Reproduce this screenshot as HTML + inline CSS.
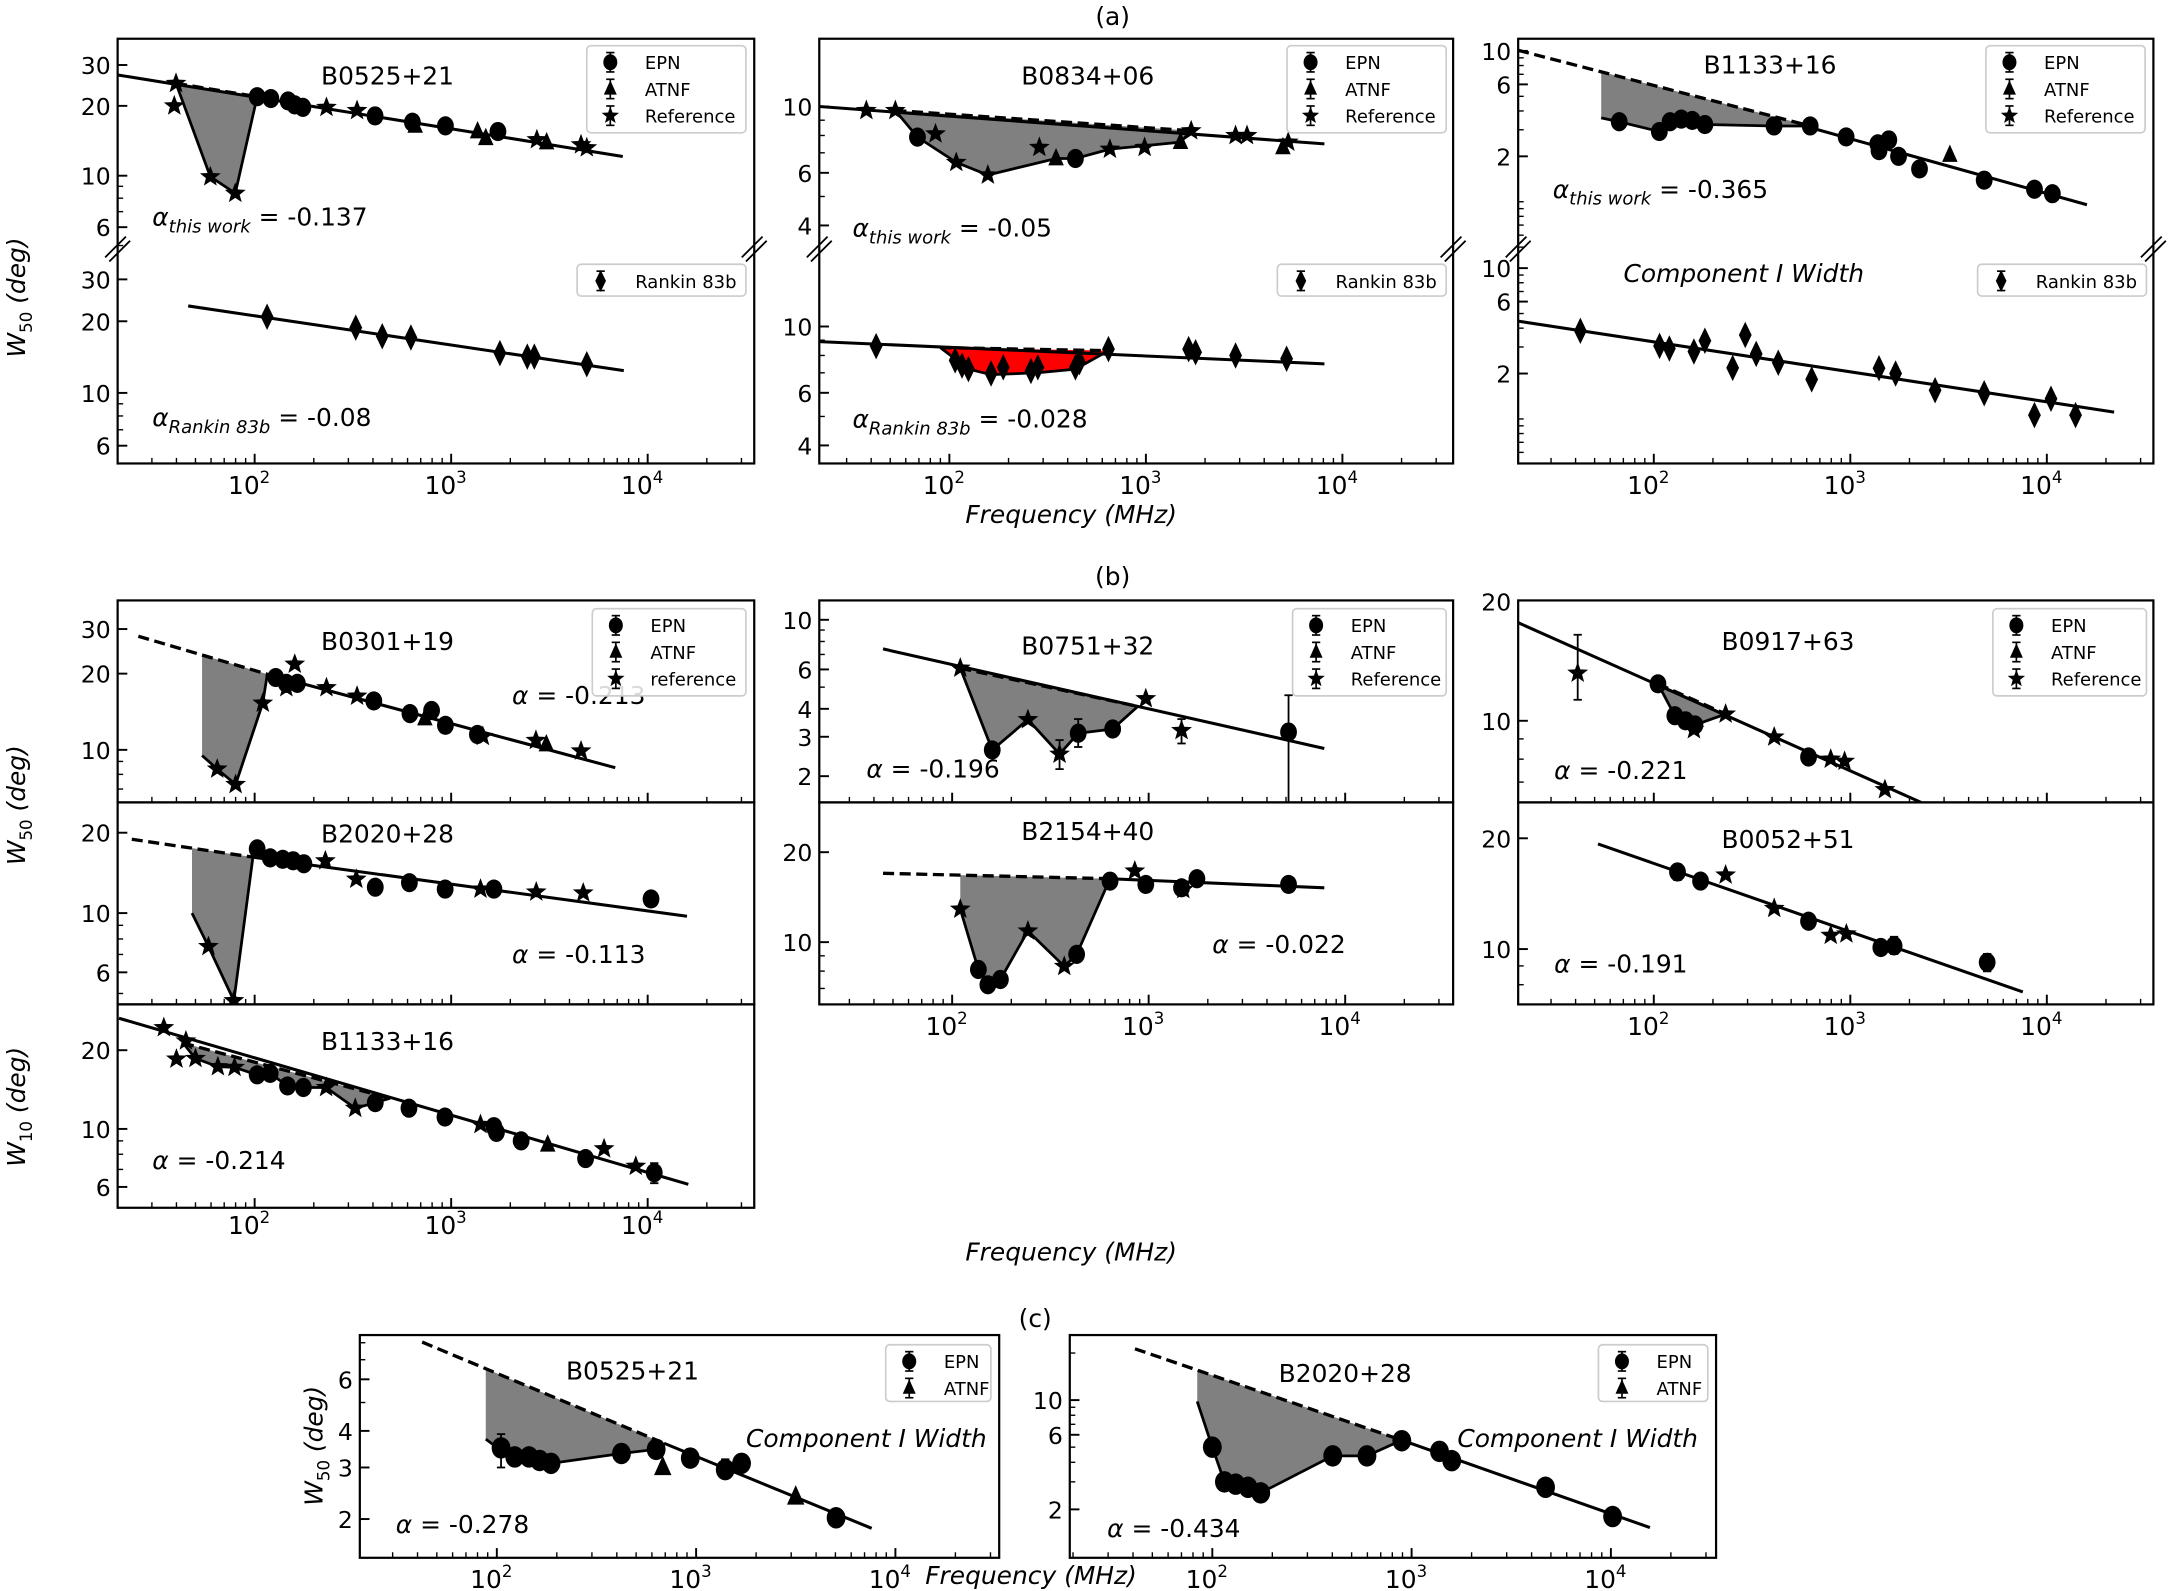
<!DOCTYPE html>
<html><head><meta charset="utf-8">
<style>
html,body{margin:0;padding:0;background:#fff;}
svg{display:block;}
text{font-family:"DejaVu Sans","Liberation Sans",sans-serif;fill:#000;}
</style></head>
<body>
<svg id="fig" xmlns="http://www.w3.org/2000/svg" width="2170" height="1591" viewBox="0 0 1568 1150" preserveAspectRatio="none">
<rect x="0" y="0" width="1568" height="1150" fill="#fff"/>
<g id="layer-shade"></g>
<g id="layer-lines"></g>
<g id="layer-marks"></g>
<g id="layer-frames"></g>
<g id="layer-text"></g>
<g id="layer-legend"></g>
</svg>
<script>
// ---------- DATA (frequency MHz, width deg) ----------
const a1top_epn=[[103,21.9],[121,21.5],[148,21],[160,20.2],[176,19.7],[410,18.1],[635,17.0],[935,16.4],[1730,15.5]];
const a1top_atnf=[[656,16.4],[1363,15.5],[1500,14.5],[3060,13.9]];
const a1top_ref=[[39.8,25],[39,20],[59.5,9.9],[79.7,8.4],[232,19.7],[332,19.1],[2730,14.3],[4580,13.6],[4900,13.2]];
const a1top_fit=[[20,27.2],[7470,12.1]];
const a1top_dash=[[39.8,25],[103,21.9]];
const a1top_low=[[39.8,25],[59.5,9.9],[79.7,8.4],[103,21.9]];
const a1bot_rankin=[[115.7,20.9],[327,18.8],[446,17.3],[624,17.1],[1770,14.7],[2440,14.2],[2650,14.2],[4900,13.2]];
const a1bot_fit=[[45.9,23.2],[7560,12.4]];

const a2top_epn=[[68.8,7.9],[438,6.7]];
const a2top_atnf=[[349,6.7],[1500,7.6],[4980,7.3]];
const a2top_ref=[[37.8,9.7],[53.1,9.7],[85,8.1],[108.4,6.5],[157,5.9],[287,7.3],[656,7.2],[985,7.3],[1700,8.3],[2860,8.0],[3270,8.0],[5300,7.6]];
const a2top_fit=[[21.8,10.0],[8100,7.5]];
const a2top_dash=[[53.1,9.7],[1700,8.3]];
const a2top_low=[[53.1,9.7],[68.8,7.9],[108.4,6.5],[157,5.9],[349,6.7],[438,6.7],[656,7.2],[1500,7.6],[1700,8.3]];
const a2bot_rankin=[[42.4,8.6],[107,7.7],[116,7.4],[125,7.2],[163,6.96],[188,7.3],[260,7.1],[282,7.3],[438,7.3],[459,7.6],[645,8.4],[1650,8.4],[1790,8.2],[2860,8.0],[5200,7.8]];
const a2bot_fit=[[21.8,8.9],[8100,7.5]];
const a2bot_dash=[[90,8.5],[645,8.3]];
const a2bot_low=[[90,8.5],[125,7.2],[163,6.9],[282,7.0],[438,7.2],[645,8.3]];

const a3top_epn=[[66.7,3.39],[106.7,2.92],[121,3.39],[138,3.53],[157,3.46],[182,3.25],[409,3.18],[625,3.18],[952,2.69],[1380,2.42],[1570,2.57],[1400,2.18],[1760,2.0],[2250,1.65],[4800,1.39],[8650,1.21],[10670,1.13]];
const a3top_atnf=[[3210,2.04]];
const a3top_fit=[[550,3.25],[16000,0.955]];
const a3top_dash=[[20.4,10.1],[625,3.18]];
const a3top_low=[[54,3.6],[66.7,3.39],[106.7,2.92],[121,3.39],[138,3.53],[157,3.46],[182,3.25],[409,3.18],[625,3.18]];
const a3bot_rankin=[[42.3,3.84],[107,3.05],[120,2.93],[160,2.8],[182,3.3],[252,2.18],[292,3.6],[332,2.7],[430,2.36],[636,1.83],[1400,2.17],[1700,2.0],[2700,1.55],[4800,1.48],[8650,1.06],[10500,1.36],[14000,1.06]];
const a3bot_fit=[[20.4,4.45],[22000,1.11]];

const b1_epn=[[128,19.3],[145,18.3],[165,18.3],[404,15.6],[617,13.9],[795,14.3],[935,12.5],[1360,11.5]];
const b1_atnf=[[735,13.3],[3050,10.5]];
const b1_ref=[[64.5,8.4],[80,7.3],[110,15.3],[145,17.6],[160,21.8],[232,17.6],[332,16.3],[1450,11.3],[2700,10.9],[4580,9.9]];
const b1_fit=[[116,19.9],[6840,8.5]];
const b1_dash=[[25.6,28.1],[116,19.9]];
const b1_low=[[54,9.5],[64.5,8.4],[80,7.3],[110,15.3],[116,19.9]];

const b4_epn=[[103,17.4],[120,16.1],[139,15.9],[157,15.7],[178,15.3],[411,12.5],[613,13.0],[932,12.3],[1650,12.3],[10400,11.3]];
const b4_ref=[[58.2,7.5],[78.4,4.7],[229,15.7],[329,13.4],[1410,12.3],[2710,12.0],[4700,11.9]];
const b4_fit=[[98,16.2],[15850,9.73]];
const b4_dash=[[23.7,18.9],[98,16.2]];
const b4_low=[[48,10],[58.2,7.5],[78.4,4.7],[98,16.2]];

const b7_epn=[[103,16.1],[120,16.3],[147,14.6],[177,14.4],[411,12.6],[610,12.0],[930,11.1],[1650,10.2],[1700,9.7],[2270,9.0],[4830,7.7],[10800,6.8]];
const b7_atnf=[[3100,8.7]];
const b7_ref=[[34.5,24.4],[44.7,21.7],[40,18.5],[50,18.6],[65,17.3],[79,17.2],[231,14.4],[325,12.0],[1410,10.4],[6000,8.4],[8700,7.2]];
const b7_fit=[[20.4,26.5],[16100,6.14]];
const b7_dash=[[43.2,21.3],[489,13.1]];
const b7_low=[[43.2,21.3],[50,18.6],[65,17.3],[79,17.2],[103,16.1],[120,16.3],[147,14.6],[177,14.4],[231,14.4],[325,12.0],[411,12.6],[489,13.1]];
const b7_err=[[10800,6.2,7.4]];

const b2_epn=[[160,2.62],[438,3.11],[656,3.25],[5150,3.15]];
const b2_ref=[[110,6.08],[243,3.58],[352,2.51],[967,4.44],[1470,3.2]];
const b2_fit=[[44.5,7.41],[7830,2.66]];
const b2_dash=[[110,6.08],[880,4.1]];
const b2_low=[[110,6.08],[160,2.62],[243,3.58],[352,2.51],[438,3.11],[656,3.25],[880,4.1]];
const b2_err=[[5150,1.5,4.6],[352,2.15,2.9],[438,2.7,3.6],[1470,2.8,3.6]];

const b5_epn=[[136,8.1],[152,7.2],[176,7.5],[430,9.1],[636,16.0],[967,15.6],[1470,15.2],[1760,16.3],[5150,15.6]];
const b5_ref=[[110,12.9],[243,10.9],[372,8.3],[850,17.3],[1500,15.0]];
const b5_fit=[[636,16.3],[7830,15.2]];
const b5_dash=[[44.5,17.0],[636,16.3]];
const b5_low=[[110,12.9],[136,8.1],[152,7.2],[176,7.5],[243,10.9],[372,8.3],[430,9.1],[636,16.3]];

const b3_epn=[[105,12.4],[128,10.3],[145,10.0],[162,9.76],[613,8.1]];
const b3_ref=[[41,13.2],[160,9.5],[232,10.4],[410,9.1],[795,8.0],[935,7.9],[1500,6.7]];
const b3_fit=[[20.4,17.7],[2290,6.22]];
const b3_dash=[[105,12.4],[232,10.4]];
const b3_low=[[105,12.4],[128,10.3],[162,9.76],[232,10.4]];
const b3_err=[[41,11.3,16.5]];

const b6_epn=[[132,16.2],[173,15.3],[613,11.9],[1430,10.1],[1670,10.2],[4970,9.2]];
const b6_ref=[[232,15.9],[410,12.9],[795,10.9],[955,11.0]];
const b6_fit=[[52,19.3],[7550,7.65]];
const b6_err=[[132,15.4,17.0],[1670,9.7,10.8],[4970,8.7,9.7]];

const c1_epn=[[105,3.5],[123,3.26],[145,3.26],[164,3.17],[187,3.1],[422,3.35],[630,3.46],[935,3.23],[1400,2.95],[1690,3.1],[5040,2.02]];
const c1_atnf=[[680,3.0],[3160,2.38]];
const c1_fit=[[690,3.63],[7600,1.86]];
const c1_dash=[[42.2,8.04],[690,3.63]];
const c1_low=[[88,3.75],[105,3.43],[123,3.26],[145,3.26],[164,3.17],[187,3.1],[422,3.35],[630,3.46],[690,3.63]];
const c1_err=[[105,3.0,3.9],[1400,2.75,3.2]];

const c2_epn=[[100,5.0],[115,3.0],[131,2.9],[151,2.77],[175,2.55],[402,4.4],[597,4.4],[893,5.5],[1380,4.7],[1590,4.1],[4700,2.77],[10200,1.8]];
const c2_fit=[[893,5.54],[15700,1.53]];
const c2_dash=[[40.9,21.3],[893,5.54]];
const c2_low=[[84,9.8],[100,5.0],[115,3.0],[131,2.9],[151,2.77],[175,2.55],[402,4.4],[597,4.4],[893,5.54]];
const c2_err=[[100,4.4,5.6]];

// tick labels
const xTickExp=[2,3,4];
const yTicks_a1=[6,10,20,30];
const yTicks_a2=[4,6,10];
const yTicks_a3=[2,6,10];
const yTicks_b1=[10,20,30];
const yTicks_b4=[6,10,20];
const yTicks_b7=[6,10,20];
const yTicks_b2=[2,3,4,6,10];
const yTicks_b5=[10,20];
const yTicks_b3=[10,20];
const yTicks_b6=[10,20];
const yTicks_c1=[2,3,4,6];
const yTicks_c2=[2,6,10];

// ---------- RENDERING ----------
const NS='http://www.w3.org/2000/svg';
function mk(tag,attrs,parent){const e=document.createElementNS(NS,tag);for(const k in attrs)e.setAttribute(k,attrs[k]);parent.appendChild(e);return e;}
const L={shade:document.getElementById('layer-shade'),lines:document.getElementById('layer-lines'),marks:document.getElementById('layer-marks'),frames:document.getElementById('layer-frames'),text:document.getElementById('layer-text'),legend:document.getElementById('layer-legend')};
const defs=mk('defs',{},document.getElementById('fig'));
const lg=Math.log10;
function X(ax,f){return ax.x100+(lg(f)-2)*ax.xdec;}
function Y(ax,w){return ax.ypx-(lg(w)-lg(ax.yv))*ax.ydec;}
let clipN=0;
function clipFor(ax){const id='clip'+(clipN++);const cp=mk('clipPath',{id:id},defs);mk('rect',{x:ax.clip[0],y:ax.clip[1],width:ax.clip[2]-ax.clip[0],height:ax.clip[3]-ax.clip[1]},cp);return 'url(#'+id+')';}

function starPath(cx,cy,R){let d='';for(let i=0;i<10;i++){const r=i%2?R*0.42:R;const a=-Math.PI/2+i*Math.PI/5;d+=(i?'L':'M')+(cx+r*Math.cos(a)).toFixed(2)+' '+(cy+r*Math.sin(a)).toFixed(2);}return d+'Z';}
function marker(g,type,x,y,s){
  let e;
  if(type==='epn'){e=mk('ellipse',{cx:x,cy:y,rx:s*0.92,ry:s*1.05,fill:'#000'},g);}
  else if(type==='atnf'){e=mk('path',{d:`M${x} ${y-s*1.15}L${x+s*0.85} ${y+s*0.75}L${x-s*0.85} ${y+s*0.75}Z`,fill:'#000'},g);}
  else if(type==='ref'){e=mk('path',{d:starPath(x,y,s*1.2),fill:'#000'},g);}
  else {e=mk('path',{d:`M${x} ${y-s*1.45}L${x+s*0.7} ${y}L${x} ${y+s*1.45}L${x-s*0.7} ${y}Z`,fill:'#000'},g);}
  return e;
}
function interpDash(dash,f){const[a,b]=dash;const t=(lg(f)-lg(a[0]))/(lg(b[0])-lg(a[0]));return Math.pow(10,lg(a[1])+t*(lg(b[1])-lg(a[1])));}

function drawAxis(ax){
  const cp=clipFor(ax);
  const gS=mk('g',{'clip-path':cp},L.shade);
  
  
  const gL=mk('g',{'clip-path':cp},L.lines);
  
  
  const gM=mk('g',{'clip-path':cp},L.marks);
  
  
  if(ax.low&&ax.dash){
    const pts=ax.low.map(p=>[X(ax,p[0]),Y(ax,p[1])]);
    const lastF=ax.low[ax.low.length-1][0],firstF=ax.low[0][0];
    pts.push([X(ax,lastF),Y(ax,interpDash(ax.dash,lastF))]);
    pts.push([X(ax,firstF),Y(ax,interpDash(ax.dash,firstF))]);
    const poly=mk('polygon',{points:pts.map(p=>p.join(',')).join(' '),fill:ax.shadeColor||'#808080',stroke:'none'},gS);
    
    
    const ln=mk('polyline',{points:ax.low.map(p=>X(ax,p[0])+','+Y(ax,p[1])).join(' '),fill:'none',stroke:'#000','stroke-width':2},gL);
    
    
  }
  if(ax.dash){
    const d=mk('line',{x1:X(ax,ax.dash[0][0]),y1:Y(ax,ax.dash[0][1]),x2:X(ax,ax.dash[1][0]),y2:Y(ax,ax.dash[1][1]),stroke:'#000','stroke-width':2.4,'stroke-dasharray':'8 4'},gL);
    
    
  }
  if(ax.fit){
    const f=mk('line',{x1:X(ax,ax.fit[0][0]),y1:Y(ax,ax.fit[0][1]),x2:X(ax,ax.fit[1][0]),y2:Y(ax,ax.fit[1][1]),stroke:'#000','stroke-width':2.2},gL);
    
    
  }
  if(ax.err){ax.err.forEach(e=>{const x=X(ax,e[0]),y1=Y(ax,e[1]),y2=Y(ax,e[2]);
    const g=mk('g',{stroke:'#000','stroke-width':1.3},gM);
    
    
    mk('line',{x1:x,y1:y1,x2:x,y2:y2},g);mk('line',{x1:x-3,y1:y1,x2:x+3,y2:y1},g);mk('line',{x1:x-3,y1:y2,x2:x+3,y2:y2},g);});}
  const s=ax.ms||6.6;
  [['epn',ax.epn],['atnf',ax.atnf],['ref',ax.ref],['rankin',ax.rankin]].forEach(([t,arr])=>{
    if(!arr)return;
    arr.forEach(p=>{const m=marker(gM,t,X(ax,p[0]),Y(ax,p[1]),s);
      
      });
  });
  const gT=L.frames;
  const x0=ax.clip[0];
  for(let d=-1;d<=3;d++)for(let k=1;k<=9;k++){
    const v=k*Math.pow(10,d);const y=Y(ax,v);
    if(y<ax.clip[1]+1||y>ax.clip[3]-1)continue;
    const major=ax.yticks.some(t=>Math.abs(t-v)<1e-9);
    const t=mk('line',{x1:x0,y1:y,x2:x0+(major?7:4),y2:y,stroke:'#000','stroke-width':major?1.4:1},gT);
    
    
  }
  ax.yticks.forEach(v=>{const y=Y(ax,v);
    const t=mk('text',{x:x0-5,y:y+6.5,'text-anchor':'end','font-size':17},L.text);t.textContent=String(v);
    
    });
}

function drawFrame(fr){
  const r=mk('rect',{x:fr.box[0],y:fr.box[1],width:fr.box[2]-fr.box[0],height:fr.box[3]-fr.box[1],fill:'none',stroke:'#000','stroke-width':1.6},L.frames);
  
  
  const yb=fr.box[3];
  for(let d=0;d<=5;d++)for(let k=1;k<=9;k++){
    const x=fr.x100+(d-2+lg(k))*fr.xdec;
    if(x<fr.box[0]+1||x>fr.box[2]-1)continue;
    const t=mk('line',{x1:x,y1:yb,x2:x,y2:yb-(k===1?7:4),stroke:'#000','stroke-width':k===1?1.4:1},L.frames);
    
    
  }
  if(fr.labels){xTickExp.forEach(e=>{const x=fr.x100+(e-2)*fr.xdec;
    const t=mk('text',{x:x-4,y:fr.labelY,'text-anchor':'middle','font-size':18},L.text);
    
    
    t.textContent='10';const sp=mk('tspan',{dy:-8,'font-size':12},t);sp.textContent=String(e);});}
  if(fr.breakY){[fr.box[0],fr.box[2]].forEach(x=>{const g=mk('g',{stroke:'#000','stroke-width':1.3},L.frames);
    
    
    mk('line',{x1:x-9,y1:fr.breakY+6,x2:x+6,y2:fr.breakY-9},g);mk('line',{x1:x-6,y1:fr.breakY+9,x2:x+9,y2:fr.breakY-6},g);});}
}

const axes=[
 {id:'a1-top',x100:184,xdec:142,yv:10,ypx:127,ydec:167.7,clip:[85,28,545,180],yticks:yTicks_a1,epn:a1top_epn,atnf:a1top_atnf,ref:a1top_ref,fit:a1top_fit,dash:a1top_dash,low:a1top_low},
 {id:'a1-bottom',x100:184,xdec:142,yv:10,ypx:284,ydec:172,clip:[85,180,545,335],yticks:yTicks_a1,rankin:a1bot_rankin,fit:a1bot_fit},
 {id:'a2-top',x100:686,xdec:142,yv:10,ypx:77,ydec:216,clip:[592,28,1050,180],yticks:yTicks_a2,epn:a2top_epn,atnf:a2top_atnf,ref:a2top_ref,fit:a2top_fit,dash:a2top_dash,low:a2top_low},
 {id:'a2-bottom',x100:686,xdec:142,yv:10,ypx:236,ydec:216,clip:[592,180,1050,335],yticks:yTicks_a2,rankin:a2bot_rankin,fit:a2bot_fit,dash:a2bot_dash,low:a2bot_low,shadeColor:'#ff0000'},
 {id:'a3-top',x100:1195,xdec:142,yv:2,ypx:113,ydec:109,clip:[1097,28,1556,180],yticks:yTicks_a3,epn:a3top_epn,atnf:a3top_atnf,fit:a3top_fit,dash:a3top_dash,low:a3top_low},
 {id:'a3-bottom',x100:1195,xdec:142,yv:2,ypx:270,ydec:109,clip:[1097,180,1556,335],yticks:yTicks_a3,rankin:a3bot_rankin,fit:a3bot_fit},
 {id:'b-B0301',x100:184,xdec:142,yv:10,ypx:542,ydec:183,clip:[85,434,545,580],yticks:yTicks_b1,epn:b1_epn,atnf:b1_atnf,ref:b1_ref,fit:b1_fit,dash:b1_dash,low:b1_low},
 {id:'b-B2020',x100:184,xdec:142,yv:10,ypx:660,ydec:193,clip:[85,580,545,726],yticks:yTicks_b4,epn:b4_epn,ref:b4_ref,fit:b4_fit,dash:b4_dash,low:b4_low},
 {id:'b-B1133',x100:184,xdec:142,yv:10,ypx:816,ydec:189,clip:[85,726,545,873],yticks:yTicks_b7,epn:b7_epn,atnf:b7_atnf,ref:b7_ref,fit:b7_fit,dash:b7_dash,low:b7_low,err:b7_err},
 {id:'b-B0751',x100:688,xdec:142,yv:10,ypx:448,ydec:161.7,clip:[592,434,1050,580],yticks:yTicks_b2,epn:b2_epn,ref:b2_ref,fit:b2_fit,dash:b2_dash,low:b2_low,err:b2_err},
 {id:'b-B2154',x100:688,xdec:142,yv:10,ypx:681,ydec:216,clip:[592,580,1050,726],yticks:yTicks_b5,epn:b5_epn,ref:b5_ref,fit:b5_fit,dash:b5_dash,low:b5_low},
 {id:'b-B0917',x100:1195,xdec:142,yv:10,ypx:521,ydec:286,clip:[1097,434,1556,580],yticks:yTicks_b3,epn:b3_epn,ref:b3_ref,fit:b3_fit,dash:b3_dash,low:b3_low,err:b3_err},
 {id:'b-B0052',x100:1195,xdec:142,yv:10,ypx:686,ydec:266,clip:[1097,580,1556,726],yticks:yTicks_b6,epn:b6_epn,ref:b6_ref,fit:b6_fit,err:b6_err},
 {id:'c-B0525',x100:359,xdec:144,yv:2,ypx:1098,ydec:211.7,clip:[260,965,722,1126],yticks:yTicks_c1,epn:c1_epn,atnf:c1_atnf,fit:c1_fit,dash:c1_dash,low:c1_low,err:c1_err,ms:7.4},
 {id:'c-B2020',x100:876,xdec:144,yv:2,ypx:1091,ydec:113,clip:[773,965,1240,1126],yticks:yTicks_c2,epn:c2_epn,fit:c2_fit,dash:c2_dash,low:c2_low,err:c2_err,ms:7.4}
];
const frames=[
 {id:'a1',box:[85,28,545,335],x100:184,xdec:142,labels:true,labelY:357,breakY:180},
 {id:'a2',box:[592,28,1050,335],x100:686,xdec:142,labels:true,labelY:357,breakY:180},
 {id:'a3',box:[1097,28,1556,335],x100:1195,xdec:142,labels:true,labelY:357,breakY:180},
 {id:'b1',box:[85,434,545,580],x100:184,xdec:142},
 {id:'b4',box:[85,580,545,726],x100:184,xdec:142},
 {id:'b7',box:[85,726,545,873],x100:184,xdec:142,labels:true,labelY:892},
 {id:'b2',box:[592,434,1050,580],x100:688,xdec:142},
 {id:'b5',box:[592,580,1050,726],x100:688,xdec:142,labels:true,labelY:748},
 {id:'b3',box:[1097,434,1556,580],x100:1195,xdec:142},
 {id:'b6',box:[1097,580,1556,726],x100:1195,xdec:142,labels:true,labelY:748},
 {id:'c1',box:[260,965,722,1126],x100:359,xdec:144,labels:true,labelY:1148},
 {id:'c2',box:[773,965,1240,1126],x100:876,xdec:144,labels:true,labelY:1148}
];
axes.forEach(drawAxis);
frames.forEach(drawFrame);

function txt(s,x,y,size,name,opts){const t=mk('text',Object.assign({x:x,y:y,'font-size':size},opts||{}),L.text);t.textContent=s;
  
  return t;}
function alpha(x,y,sub,val,name){const t=mk('text',{x:x,y:y,'font-size':18},L.text);
  
  
  const a=mk('tspan',{'font-style':'italic'},t);a.textContent='α';
  if(sub){const s=mk('tspan',{'font-style':'italic','font-size':13,dy:5},t);s.textContent=sub;const r=mk('tspan',{dy:-5},t);r.textContent=' = '+val;}
  else{const r=mk('tspan',{},t);r.textContent=' = '+val;}
}
txt('(a)',804,18,18,'panel-a-label',{'text-anchor':'middle'});
txt('(b)',804,423,18,'panel-b-label',{'text-anchor':'middle'});
txt('(c)',748,959,18,'panel-c-label',{'text-anchor':'middle'});
[[774,378],[774,911],[745,1145]].forEach(p=>{txt('Frequency (MHz)',p[0],p[1],18,'x-axis-title',{'text-anchor':'middle','font-style':'italic'});});
function ylab(x,y,sub,name){const t=mk('text',{x:0,y:0,'font-size':18,'font-style':'italic','text-anchor':'middle',transform:`translate(${x},${y}) rotate(-90)`},L.text);
  
  
  const a=mk('tspan',{},t);a.textContent='W';const b=mk('tspan',{dy:5,'font-size':12,'font-style':'normal'},t);b.textContent=sub;const c=mk('tspan',{dy:-5},t);c.textContent=' (deg)';}
ylab(18,215,'50','y-axis-title-a');ylab(18,582,'50','y-axis-title-b-w50');ylab(18,800,'10','y-axis-title-b-w10');ylab(233,1045,'50','y-axis-title-c');

const titles=[['B0525+21',280,61],['B0834+06',786,61],['B1133+16',1279,53],['B0301+19',280,470],['B2020+28',280,609],['B1133+16',280,759],['B0751+32',786,473],['B2154+40',786,607],['B0917+63',1292,470],['B0052+51',1292,613],['B0525+21',457,997],['B2020+28',972,999]];
titles.forEach(t=>txt(t[0],t[1],t[2],18,'pulsar-name',{'text-anchor':'middle'}));
txt('Component I Width',1260,204,18,'component-label',{'text-anchor':'middle','font-style':'italic'});
txt('Component I Width',626,1046,18,'component-label',{'text-anchor':'middle','font-style':'italic'});
txt('Component I Width',1140,1046,18,'component-label',{'text-anchor':'middle','font-style':'italic'});
alpha(110,163,'this work','-0.137','alpha-a1');alpha(110,308,'Rankin 83b','-0.08','alpha-a1-rankin');
alpha(616,171,'this work','-0.05','alpha-a2');alpha(616,309,'Rankin 83b','-0.028','alpha-a2-rankin');
alpha(1122,143,'this work','-0.365','alpha-a3');
alpha(370,509,null,'-0.213','alpha-b1');alpha(370,696,null,'-0.113','alpha-b4');alpha(110,845,null,'-0.214','alpha-b7');
alpha(626,562,null,'-0.196','alpha-b2');alpha(876,689,null,'-0.022','alpha-b5');alpha(1123,563,null,'-0.221','alpha-b3');alpha(1123,703,null,'-0.191','alpha-b6');
alpha(286,1108,null,'-0.278','alpha-c1');alpha(800,1111,null,'-0.434','alpha-c2');

function legend(box,entries,name){const g=mk('g',{},L.legend);
  
  
  mk('rect',{x:box[0],y:box[1],width:box[2]-box[0],height:box[3]-box[1],rx:3,fill:'#fff','fill-opacity':0.85,stroke:'#ccc','stroke-width':1.2},g);
  entries.forEach((e,i)=>{const y=box[1]+12+i*19.3;const x=box[0]+17;
    const eg=mk('g',{},g);
    
    
    mk('line',{x1:x,y1:y-7,x2:x,y2:y+7,stroke:'#000','stroke-width':1.2},eg);
    mk('line',{x1:x-3,y1:y-7,x2:x+3,y2:y-7,stroke:'#000','stroke-width':1.2},eg);
    mk('line',{x1:x-3,y1:y+7,x2:x+3,y2:y+7,stroke:'#000','stroke-width':1.2},eg);
    marker(eg,e[0],x,y,5.5);
    const t=mk('text',{x:box[0]+42,y:y+5,'font-size':13},eg);t.textContent=e[1];});
}
const std=[['epn','EPN'],['atnf','ATNF'],['ref','Reference']];
legend([424,33,539,96],std,'legend-a1');legend([930,33,1045,96],std,'legend-a2');legend([1435,33,1550,96],std,'legend-a3');
legend([417,191,539,214],[['rankin','Rankin 83b']],'legend-a1-rankin');legend([923,191,1045,214],[['rankin','Rankin 83b']],'legend-a2-rankin');legend([1429,191,1551,214],[['rankin','Rankin 83b']],'legend-a3-rankin');
legend([428,440,539,503],[['epn','EPN'],['atnf','ATNF'],['ref','reference']],'legend-b1');
legend([934,440,1045,503],std,'legend-b2');legend([1440,440,1551,503],std,'legend-b3');
legend([640,972,716,1013],[['epn','EPN'],['atnf','ATNF']],'legend-c1');legend([1155,972,1234,1013],[['epn','EPN'],['atnf','ATNF']],'legend-c2');
</script>
</body></html>
